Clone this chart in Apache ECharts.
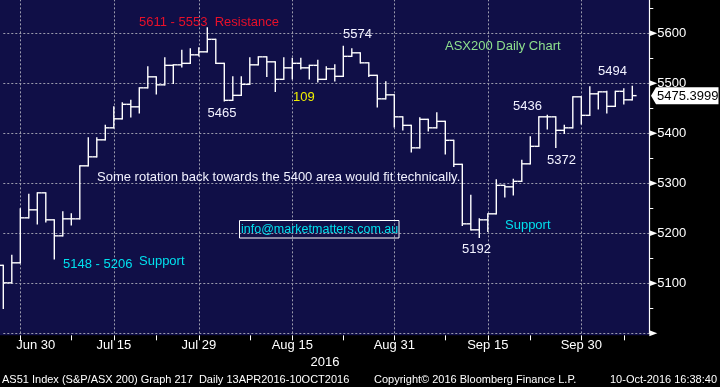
<!DOCTYPE html>
<html><head><meta charset="utf-8">
<script src="https://cdn.jsdelivr.net/npm/echarts@6/dist/echarts.min.js"></script>
<style>html,body{margin:0;padding:0;background:#000;}#c{width:720px;height:387px;}</style>
</head><body><div id="c"></div>
<script>
const dates = ['2016-06-28','2016-06-29','2016-06-30','2016-07-01','2016-07-04','2016-07-05','2016-07-06','2016-07-07','2016-07-08','2016-07-11','2016-07-12','2016-07-13','2016-07-14','2016-07-15','2016-07-18','2016-07-19','2016-07-20','2016-07-21','2016-07-22','2016-07-25','2016-07-26','2016-07-27','2016-07-28','2016-07-29','2016-08-01','2016-08-02','2016-08-03','2016-08-04','2016-08-05','2016-08-08','2016-08-09','2016-08-10','2016-08-11','2016-08-12','2016-08-15','2016-08-16','2016-08-17','2016-08-18','2016-08-19','2016-08-22','2016-08-23','2016-08-24','2016-08-25','2016-08-26','2016-08-29','2016-08-30','2016-08-31','2016-09-01','2016-09-02','2016-09-05','2016-09-06','2016-09-07','2016-09-08','2016-09-09','2016-09-12','2016-09-13','2016-09-14','2016-09-15','2016-09-16','2016-09-19','2016-09-20','2016-09-21','2016-09-22','2016-09-23','2016-09-26','2016-09-27','2016-09-28','2016-09-29','2016-09-30','2016-10-03','2016-10-04','2016-10-05','2016-10-06','2016-10-07','2016-10-10'];
const opens  = [5136,5101,5141,5231,5247,5281,5227,5195,5229,5229,5335,5353,5387,5411,5429,5458,5453,5491,5513,5497,5536,5537,5540,5557,5563,5588,5540,5466,5476,5498,5537,5553,5543,5508,5531,5540,5531,5536,5508,5529,5514,5554,5561,5541,5516,5469,5477,5433,5416,5371,5428,5411,5424,5386,5338,5219,5207,5227,5239,5296,5293,5304,5339,5374,5433,5433,5406,5411,5473,5436,5479,5483,5454,5484,5467];
const highs  = [5136,5156,5249,5278,5281,5281,5227,5243,5239,5335,5391,5391,5416,5453,5461,5466,5491,5533,5513,5551,5537,5566,5569,5571,5611,5588,5540,5513,5513,5551,5553,5553,5543,5551,5550,5550,5536,5546,5533,5537,5574,5569,5561,5541,5516,5503,5477,5433,5416,5431,5428,5441,5424,5386,5338,5276,5229,5239,5307,5296,5308,5346,5393,5433,5436,5433,5416,5473,5473,5493,5483,5484,5484,5489,5494];
const lows   = [5050,5101,5141,5231,5219,5223,5149,5195,5217,5229,5335,5353,5387,5411,5429,5433,5441,5491,5479,5497,5500,5533,5540,5555,5563,5540,5465,5466,5476,5498,5537,5514,5484,5508,5509,5529,5509,5503,5508,5505,5514,5554,5541,5514,5453,5469,5413,5407,5363,5371,5405,5411,5359,5334,5216,5207,5192,5204,5239,5273,5277,5304,5339,5374,5409,5372,5400,5411,5419,5436,5449,5441,5454,5459,5467];
const closes = [5101,5141,5231,5247,5281,5227,5195,5229,5229,5335,5353,5387,5411,5429,5458,5453,5491,5513,5497,5536,5537,5540,5557,5563,5588,5540,5466,5476,5498,5537,5553,5543,5508,5531,5540,5531,5536,5508,5529,5514,5554,5561,5541,5516,5469,5477,5433,5416,5371,5428,5411,5424,5386,5338,5219,5207,5227,5239,5296,5293,5304,5339,5374,5433,5433,5406,5411,5473,5436,5479,5483,5454,5484,5467,5475.3999];
const lastPriceText = '5475.3999';
const xLabels = {'2016-06-30':'Jun 30','2016-07-15':'Jul 15','2016-07-29':'Jul 29','2016-08-15':'Aug 15','2016-08-31':'Aug 31','2016-09-15':'Sep 15','2016-09-30':'Sep 30'};
const xTickDates = ['2016-06-30','2016-07-08','2016-07-15','2016-07-22','2016-07-29','2016-08-08','2016-08-15','2016-08-23','2016-08-31','2016-09-08','2016-09-15','2016-09-22','2016-09-30','2016-10-07'];
const yLabelValues = [5100,5200,5300,5400,5500,5600];
const yMajorTicks = [5000,5100,5200,5300,5400,5500,5600];

const FONT = "'Liberation Sans', Arial, sans-serif";
const cats = dates.concat([' ', '  ']);
const barData = dates.map((d, i) => [i, opens[i], highs[i], lows[i], closes[i]]);

function renderItem(params, api) {
  const i = api.value(0);
  const pO = api.coord([i, api.value(1)]);
  const pH = api.coord([i, api.value(2)]);
  const pL = api.coord([i, api.value(3)]);
  const pC = api.coord([i, api.value(4)]);
  const x = pO[0];
  const st = {stroke: '#ffffff', lineWidth: 1.4};
  return {type: 'group', children: [
    {type: 'line', shape: {x1: x, y1: pH[1] - 0.7, x2: x, y2: pL[1] + 0.7}, style: st},
    {type: 'line', shape: {x1: x - 4.3, y1: pO[1], x2: x, y2: pO[1]}, style: st},
    {type: 'line', shape: {x1: x, y1: pC[1], x2: x + 4.3, y2: pC[1]}, style: st}
  ]};
}

const chart = echarts.init(document.getElementById('c'), null, {renderer: 'canvas'});
chart.setOption({
  backgroundColor: '#000000',
  animation: false,
  grid: {left: 3.3, right: 70.7, top: -16.667, bottom: 53.667, containLabel: false, outerBoundsMode: 'none'},
  xAxis: {
    type: 'category', data: cats, boundaryGap: false, offset: 2,
    axisLine: {show: false},
    axisTick: {show: true, length: 5, lineStyle: {color: '#ffffff', width: 1},
      interval: (idx, val) => xTickDates.indexOf(val) >= 0},
    axisLabel: {color: '#ffffff', fontSize: 13, fontFamily: FONT, margin: 4,
      interval: (idx, val) => xLabels[val] !== undefined,
      formatter: (val) => val === '2016-06-30' ? '{f|' + xLabels[val] + '}' : (xLabels[val] || ''),
      rich: {f: {color: '#ffffff', fontSize: 13, fontFamily: FONT, padding: [0, 0, 0, 31]}}},
    splitLine: {show: true, interval: (idx, val) => xLabels[val] !== undefined,
      lineStyle: {color: '#9c9cae', width: 1, type: [2, 2]}}
  },
  yAxis: {
    type: 'value', position: 'right', min: 5000, max: 5700, interval: 100,
    axisLine: {show: true, lineStyle: {color: '#ffffff', width: 1.2}},
    axisTick: {show: false},
    minorTick: {show: true, splitNumber: 2, length: 4, lineStyle: {color: '#ffffff', width: 1}},
    axisLabel: {color: '#ffffff', fontSize: 13, fontFamily: FONT, margin: 8,
      formatter: (v) => yLabelValues.indexOf(v) >= 0 ? String(v) : ''},
    splitLine: {show: true, lineStyle: {color: '#9c9cae', width: 1, type: [2, 2]}}
  },
  series: [{type: 'custom', renderItem: renderItem, data: barData, encode: {x: 0, y: [1, 2, 3, 4]}, z: 5, clip: false}]
});

const yOf = (v) => chart.convertToPixel({yAxisIndex: 0}, v);
const xAxisPx = chart.convertToPixel({xAxisIndex: 0}, dates[dates.length - 1]);
const axisX = 649.3;

function txt(text, x, y, color, size, align) {
  return {type: 'text', z: 20, style: {text: text, x: x, y: y, fill: color, font: size + 'px ' + FONT,
    textAlign: align || 'left', textVerticalAlign: 'middle'}};
}
const g = [];
g.push({type: 'rect', z: -10, shape: {x: 0, y: 0, width: axisX, height: yOf(5000) + 2}, style: {fill: '#100f47'}});
yMajorTicks.forEach(v => {
  const y = yOf(v);
  g.push({type: 'polygon', z: 20, shape: {points: [[axisX, y - 3], [axisX + 8, y], [axisX, y + 3]]}, style: {fill: '#ffffff'}});
});
// last price tag
const yl = yOf(closes[closes.length - 1]);
g.push({type: 'polygon', z: 20, shape: {points: [[651, yl], [656, yl - 8.5], [718.5, yl - 8.5], [718.5, yl + 8.5], [656, yl + 8.5]]}, style: {fill: '#ffffff'}});
g.push(txt(lastPriceText, 657, yl + 0.5, '#000000', 13));
// annotations
const W = '#f2f2ff', CY = '#00e0ee';
g.push(txt('5611 - 5553  Resistance', 139, 22.5, '#e8102a', 13));
g.push(txt('ASX200 Daily Chart', 445, 46, '#8ee08e', 13));
g.push(txt('5574', 343, 34.5, W, 13));
g.push(txt('109', 293, 97, '#f0f000', 13));
g.push(txt('5465', 207.5, 113.5, W, 13));
g.push(txt('5494', 598, 71, W, 13));
g.push(txt('5436', 513, 106.5, W, 13));
g.push(txt('5372', 547, 160.5, W, 13));
g.push(txt('5192', 462, 249.5, W, 13));
g.push(txt('Support', 505, 225.5, CY, 13));
g.push(txt('5148 - 5206', 63, 264, CY, 13));
g.push(txt('Support', 139, 261.5, CY, 13));
g.push(txt('Some rotation back towards the 5400 area would fit technically.', 97, 177, W, 13));
g.push({type: 'rect', z: 20, shape: {x: 239.5, y: 220.5, width: 159.5, height: 17.5}, style: {fill: 'none', stroke: '#ffffff', lineWidth: 1}});
g.push(txt('info@marketmatters.com.au', 241, 229.5, CY, 12.5));
// footer
g.push(txt('2016', 325, 362, '#ffffff', 13, 'center'));
g.push(txt('AS51 Index (S&P/ASX 200) Graph 217  Daily 13APR2016-10OCT2016', 2, 379.5, '#ffffff', 11));
g.push(txt('Copyright\u00A9 2016 Bloomberg Finance L.P.', 374, 379.5, '#ffffff', 11));
g.push(txt('10-Oct-2016 16:38:40', 717, 379.5, '#ffffff', 11, 'right'));
chart.setOption({graphic: g});
</script></body></html>
